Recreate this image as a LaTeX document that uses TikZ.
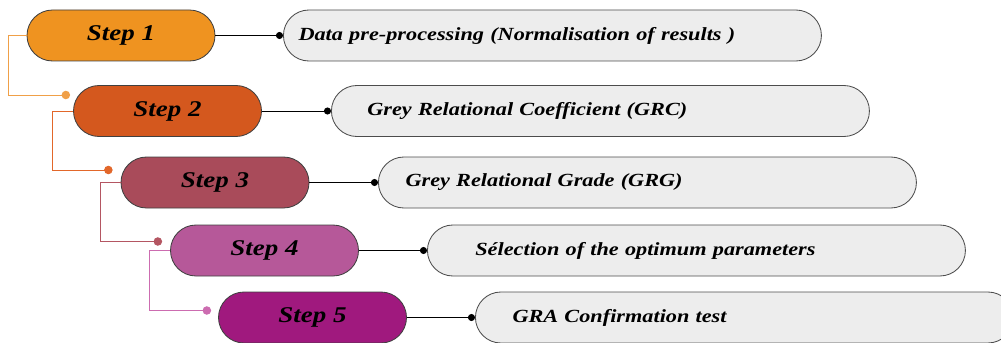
\documentclass[tikz,border=0pt]{standalone}
\usepackage{fontspec}
\setmainfont[FakeStretch=1.2]{Liberation Serif}
\usetikzlibrary{arrows.meta}
\definecolor{stepone}{HTML}{EF9320}
\definecolor{steptwo}{HTML}{D4581E}
\definecolor{stepthree}{HTML}{A94B5A}
\definecolor{stepfour}{HTML}{B65899}
\definecolor{stepfive}{HTML}{A0197E}
\definecolor{linkone}{HTML}{F0A048}
\definecolor{linktwo}{HTML}{E2672A}
\definecolor{linkthree}{HTML}{B45662}
\definecolor{linkfour}{HTML}{CC6CB0}
\definecolor{descfill}{HTML}{EDEDED}
\begin{document}
\begin{tikzpicture}[
  stepnode/.style={draw=black!75, line width=0.6pt, rounded corners=0.6375cm, minimum width=4.7cm, minimum height=1.275cm, font=\fontsize{16}{19}\selectfont\bfseries\itshape},
  descnode/.style={draw=black!70, line width=0.6pt, fill=descfill, rounded corners=0.6375cm, minimum height=1.275cm, inner xsep=0.2375cm, text width=12.975cm, align=left, anchor=west, font=\fontsize{13.2}{16}\selectfont\bfseries\itshape},
  dotlink/.style={line width=0.7pt, -{Circle[length=5pt]}},
  elbow/.style={line width=0.7pt, -{Circle[length=6pt]}}]
\useasboundingbox (0,0) rectangle (25.025,-8.575);
\node[stepnode, fill=stepone] (s1) at (3.025,-0.8875) {Step 1};
\node[stepnode, fill=steptwo] (s2) at (4.1875,-2.775) {Step 2};
\node[stepnode, fill=stepthree] (s3) at (5.375,-4.5625) {Step 3};
\node[stepnode, fill=stepfour] (s4) at (6.6125,-6.2625) {Step 4};
\node[stepnode, fill=stepfive] (s5) at (7.8125,-7.9375) {Step 5};
\node[descnode] (d1) at (7.075,-0.8875) {\hspace*{0.14cm}Data pre-processing (Normalisation of results )};
\node[descnode] (d2) at (8.275,-2.775) {\hspace*{0.66cm}Grey Relational Coefficient (GRC)};
\node[descnode] (d3) at (9.45,-4.5625) {\hspace*{0.44cm}Grey Relational Grade (GRG)};
\node[descnode] (d4) at (10.675,-6.2625) {\hspace*{0.96cm}Sélection of the optimum parameters};
\node[descnode] (d5) at (11.875,-7.9375) {\hspace*{0.69cm}GRA Confirmation test};
\draw[dotlink] (s1.east) -- (d1.west);
\draw[dotlink] (s2.east) -- (d2.west);
\draw[dotlink] (s3.east) -- (d3.west);
\draw[dotlink] (s4.east) -- (d4.west);
\draw[dotlink] (s5.east) -- (d5.west);
\draw[elbow, draw=linkone] (s1.west) -- ++(-0.45,0) |- ([xshift=-0.075cm,yshift=0.4cm]s2.west);
\draw[elbow, draw=linktwo] (s2.west) -- ++(-0.525,0) |- ([xshift=-0.2cm,yshift=0.3125cm]s3.west);
\draw[elbow, draw=linkthree] (s3.west) -- ++(-0.5,0) |- ([xshift=-0.2cm,yshift=0.225cm]s4.west);
\draw[elbow, draw=linkfour] (s4.west) -- ++(-0.5125,0) |- ([xshift=-0.175cm,yshift=0.175cm]s5.west);
\end{tikzpicture}
\end{document}
